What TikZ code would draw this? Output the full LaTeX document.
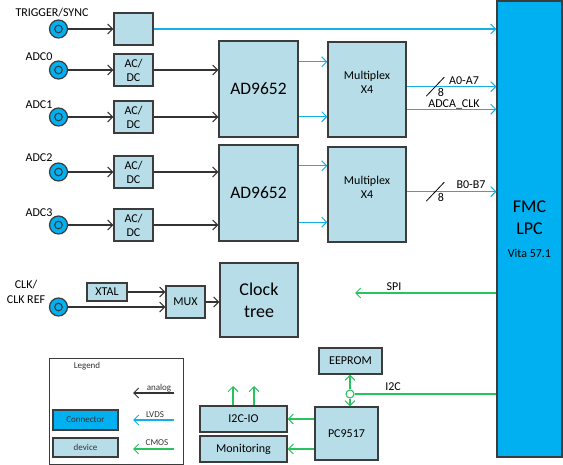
\documentclass[tikz,border=0pt]{standalone}
\usepackage{fontspec}
\setmainfont{Carlito}
\usetikzlibrary{arrows.meta,calc}
\definecolor{devfill}{RGB}{183,221,232}
\definecolor{conn}{RGB}{0,176,240}
\definecolor{edge}{RGB}{60,60,60}
\definecolor{cmos}{RGB}{40,195,95}
\definecolor{lvds}{RGB}{20,175,235}
\begin{document}
\begin{tikzpicture}[x=1pt,y=-1pt,
 dev/.style={draw=edge,line width=1.2pt,fill=devfill,inner sep=0pt,font=\fontsize{12}{14}\selectfont,align=center},
 connbox/.style={draw=edge,line width=1.2pt,fill=conn,inner sep=0pt,font=\fontsize{9}{11}\selectfont},
 jack/.style={circle,draw=edge,line width=1.2pt,fill=conn,minimum size=18pt,inner sep=0pt,
   path picture={\draw[edge,line width=1.1pt] (path picture bounding box.center) circle (3.8pt);}},
 junc/.style={circle,draw=cmos,line width=1.1pt,fill=white,minimum size=8pt,inner sep=0pt},
 tipa/.style={-{Straight Barb[length=5pt,width=10pt,line width=1pt]}},
 analn/.style={tipa,line width=1.1pt,black!80},
 lvdsln/.style={tipa,line width=1.1pt,lvds},
 cmosln/.style={tipa,line width=1.1pt,cmos},
 slashln/.style={line width=0.8pt,black},
 lbl/.style={font=\fontsize{12}{14}\selectfont,inner sep=0pt,align=center},
 smalltxt/.style={font=\fontsize{9}{11}\selectfont,inner sep=0pt,text=black!80},
]
\useasboundingbox (0,0) rectangle (563,465);

% FMC connector
\node[connbox,minimum width=65pt,minimum height=456pt] (fmc) at (529.5,229) {};
\node[lbl,font=\fontsize{18}{22}\selectfont] (fmct) at (529.5,218) {FMC\\LPC};
\node[lbl] (vita) at (529.5,253) {Vita 57.1};

% jacks and labels
\node[jack] (jt) at (58.5,29) {};
\node[jack] (j0) at (58.5,70) {};
\node[jack] (j1) at (58.5,117) {};
\node[jack] (j2) at (58.5,172) {};
\node[jack] (j3) at (58.5,225) {};
\node[jack] (jc) at (58.5,307) {};
\node[lbl] (ltrig) at (52,13) {TRIGGER/SYNC};
\node[lbl] (l0) at (39,57) {ADC0};
\node[lbl] (l1) at (39,105) {ADC1};
\node[lbl] (l2) at (39,158) {ADC2};
\node[lbl] (l3) at (39,213) {ADC3};
\node[lbl,font=\fontsize{12}{15}\selectfont] (lclk) at (26,291.5) {CLK/\\CLK REF};

% small boxes
\node[dev,minimum width=39pt,minimum height=32pt] (trig) at (133.5,29) {};
\node[dev,minimum width=39pt,minimum height=32pt] (ac0) at (133.5,70) {AC/\\DC};
\node[dev,minimum width=39pt,minimum height=32pt] (ac1) at (133.5,117) {AC/\\DC};
\node[dev,minimum width=39pt,minimum height=32pt] (ac2) at (133.5,172) {AC/\\DC};
\node[dev,minimum width=39pt,minimum height=32pt] (ac3) at (133.5,225) {AC/\\DC};

% ADCs
\node[dev,minimum width=79pt,minimum height=96pt,font=\fontsize{17.5}{20}\selectfont] (ad1) at (258.5,89) {AD9652};
\node[dev,minimum width=79pt,minimum height=96pt,font=\fontsize{17.5}{20}\selectfont] (ad2) at (258.5,193) {AD9652};

% multiplexers
\node[dev,minimum width=78pt,minimum height=95pt] (mx1) at (367,89.5) {};
\node[dev,minimum width=78pt,minimum height=95pt] (mx2) at (367,194.5) {};
\node[lbl] (mx1t) at (367,82) {Multiplex\\X4};
\node[lbl] (mx2t) at (367,187) {Multiplex\\X4};

% clock section
\node[dev,minimum width=40pt,minimum height=18pt] (xtal) at (107,292) {XTAL};
\node[dev,minimum width=39pt,minimum height=32pt] (mux) at (185.5,302) {MUX};
\node[dev,minimum width=78pt,minimum height=74pt,font=\fontsize{18}{22}\selectfont] (clk) at (259,300) {Clock\\tree};

% I2C section
\node[dev,minimum width=63pt,minimum height=26pt] (eep) at (350.5,361) {EEPROM};
\node[dev,minimum width=63pt,minimum height=53pt] (pc) at (346.5,433.5) {PC9517};
\node[dev,minimum width=87pt,minimum height=26pt] (i2cio) at (243.5,419) {I2C-IO};
\node[dev,minimum width=87pt,minimum height=26pt] (mon) at (243.5,449) {Monitoring};
\node[junc] (jn) at (350,394) {};

% analog connections
\draw[analn] (jt.east) -- (trig.west);
\draw[analn] (j0.east) -- (ac0.west);
\draw[analn] (j1.east) -- (ac1.west);
\draw[analn] (j2.east) -- (ac2.west);
\draw[analn] (j3.east) -- (ac3.west);
\draw[analn] (ac0.east) -- (ac0.east -| ad1.west);
\draw[analn] (ac1.east) -- (ac1.east -| ad1.west);
\draw[analn] (ac2.east) -- (ac2.east -| ad2.west);
\draw[analn] (ac3.east) -- (ac3.east -| ad2.west);
\draw[analn] (xtal.east) -- (xtal.east -| mux.west);
\draw[analn] (jc.east) -- (jc.east -| mux.west);
\draw[analn] (mux.east) -- (mux.east -| clk.west);

% LVDS connections
\draw[lvdsln] (trig.east) -- (trig.east -| fmc.west);
\coordinate (a1) at ($(ad1.north east)!0.22!(ad1.south east)$);
\coordinate (a2) at ($(ad1.north east)!0.785!(ad1.south east)$);
\coordinate (a3) at ($(ad2.north east)!0.22!(ad2.south east)$);
\coordinate (a4) at ($(ad2.north east)!0.8!(ad2.south east)$);
\draw[lvdsln] (a1) -- (a1 -| mx1.west);
\draw[lvdsln] (a2) -- (a2 -| mx1.west);
\draw[lvdsln] (a3) -- (a3 -| mx2.west);
\draw[lvdsln] (a4) -- (a4 -| mx2.west);
\coordinate (m1) at ($(mx1.north east)!0.47!(mx1.south east)$);
\coordinate (m2) at ($(mx1.north east)!0.705!(mx1.south east)$);
\coordinate (m3) at ($(mx2.north east)!0.47!(mx2.south east)$);
\draw[lvdsln] (m1) -- (m1 -| fmc.west) coordinate[pos=0.32] (s1);
\draw[lvdsln] (m2) -- (m2 -| fmc.west);
\draw[lvdsln] (m3) -- (m3 -| fmc.west) coordinate[pos=0.32] (s3);
\draw[slashln] ($(s1)+(-9,9.5)$) -- ($(s1)+(9,-9.5)$);
\draw[slashln] ($(s3)+(-9,9.5)$) -- ($(s3)+(9,-9.5)$);
\node[lbl] (n8a) at (441,92) {8};
\node[lbl] (n8b) at (441,197) {8};
\node[lbl] (la07) at (464,81) {A0-A7};
\node[lbl] (lclka) at (454,104) {ADCA\_CLK};
\node[lbl] (lb07) at (471,184.5) {B0-B7};

% CMOS connections
\coordinate (spiend) at (355,293);
\draw[cmosln] (spiend -| fmc.west) -- (spiend);
\node[lbl] (lspi) at (394,287) {SPI};
\draw[line width=1.1pt,cmos] (jn.east) -- (jn.east -| fmc.west);
\node[lbl] (li2c) at (393,387) {I2C};
\draw[cmosln] (jn.north) -- (jn.north |- eep.south);
\draw[cmosln] (jn.south) -- (jn.south |- pc.north);
\draw[cmosln] (i2cio.east -| pc.west) -- (i2cio.east);
\draw[cmosln] (mon.east -| pc.west) -- (mon.east);
\coordinate (up1) at (233,386);
\coordinate (up2) at (254,386);
\draw[cmosln] (up1 |- i2cio.north) -- (up1);
\draw[cmosln] (up2 |- i2cio.north) -- (up2);

% legend
\node[draw=edge,line width=1pt,minimum width=134pt,minimum height=105pt,inner sep=0pt] (legend) at (116,411.5) {};
\node[smalltxt] (legt) at (87,366) {Legend};
\node[connbox,minimum width=65pt,minimum height=20pt,text=black!80] (legc) at (85.5,420) {Connector};
\node[dev,minimum width=65pt,minimum height=19pt,font=\fontsize{9}{11}\selectfont,text=black!80] (legd) at (85.5,447.5) {device};
\coordinate (ga1) at (174,393);
\coordinate (ga2) at (133,393);
\coordinate (gl1) at (174,420);
\coordinate (gl2) at (133,420);
\coordinate (gc1) at (174,449);
\coordinate (gc2) at (133,449);
\draw[analn] (ga1) -- (ga2);
\draw[lvdsln] (gl1) -- (gl2);
\draw[cmosln] (gc1) -- (gc2);
\node[smalltxt] (tana) at (159,388) {analog};
\node[smalltxt] (tlv) at (155,415) {LVDS};
\node[smalltxt] (tcm) at (157,443) {CMOS};
\end{tikzpicture}
\end{document}
